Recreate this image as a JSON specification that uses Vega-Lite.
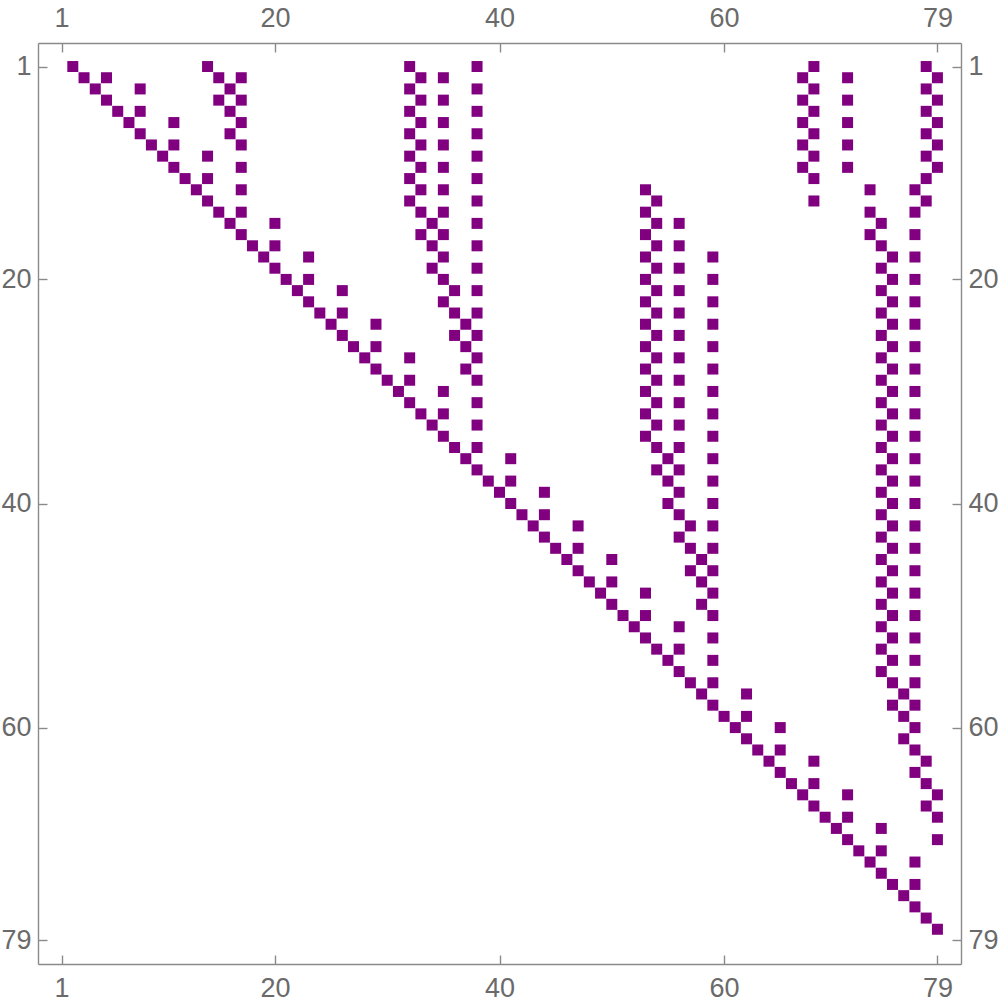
{
  "$schema": "https://vega.github.io/schema/vega-lite/v6.json",
  "width": 923,
  "height": 921,
  "autosize": {"type": "none"},
  "padding": {"left": 38, "top": 43, "right": 39, "bottom": 44},
  "background": "white",
  "config": {
    "view": {"stroke": null},
    "axis": {
      "grid": false,
      "title": null,
      "domain": true,
      "domainColor": "#8a8a8a",
      "domainWidth": 1.4,
      "ticks": true,
      "tickColor": "#8a8a8a",
      "tickWidth": 1.4,
      "tickSize": -9,
      "labelFont": "Liberation Sans",
      "labelFontSize": 27,
      "labelColor": "#6a6a6a",
      "format": "d"
    }
  },
  "data": {"values": [
    {"r":1,"c":2},{"r":1,"c":14},{"r":1,"c":32},{"r":1,"c":38},{"r":1,"c":68},{"r":1,"c":78},
    {"r":2,"c":3},{"r":2,"c":5},{"r":2,"c":15},{"r":2,"c":17},{"r":2,"c":33},{"r":2,"c":35},{"r":2,"c":67},{"r":2,"c":71},{"r":2,"c":79},
    {"r":3,"c":4},{"r":3,"c":8},{"r":3,"c":16},{"r":3,"c":32},{"r":3,"c":38},{"r":3,"c":68},{"r":3,"c":78},
    {"r":4,"c":5},{"r":4,"c":15},{"r":4,"c":17},{"r":4,"c":33},{"r":4,"c":35},{"r":4,"c":67},{"r":4,"c":71},{"r":4,"c":79},
    {"r":5,"c":6},{"r":5,"c":8},{"r":5,"c":16},{"r":5,"c":32},{"r":5,"c":38},{"r":5,"c":68},{"r":5,"c":78},
    {"r":6,"c":7},{"r":6,"c":11},{"r":6,"c":17},{"r":6,"c":33},{"r":6,"c":35},{"r":6,"c":67},{"r":6,"c":71},{"r":6,"c":79},
    {"r":7,"c":8},{"r":7,"c":16},{"r":7,"c":32},{"r":7,"c":38},{"r":7,"c":68},{"r":7,"c":78},
    {"r":8,"c":9},{"r":8,"c":11},{"r":8,"c":17},{"r":8,"c":33},{"r":8,"c":35},{"r":8,"c":67},{"r":8,"c":71},{"r":8,"c":79},
    {"r":9,"c":10},{"r":9,"c":14},{"r":9,"c":32},{"r":9,"c":38},{"r":9,"c":68},{"r":9,"c":78},
    {"r":10,"c":11},{"r":10,"c":17},{"r":10,"c":33},{"r":10,"c":35},{"r":10,"c":67},{"r":10,"c":71},{"r":10,"c":79},
    {"r":11,"c":12},{"r":11,"c":14},{"r":11,"c":32},{"r":11,"c":38},{"r":11,"c":68},{"r":11,"c":78},
    {"r":12,"c":13},{"r":12,"c":17},{"r":12,"c":33},{"r":12,"c":35},{"r":12,"c":53},{"r":12,"c":73},{"r":12,"c":77},
    {"r":13,"c":14},{"r":13,"c":32},{"r":13,"c":38},{"r":13,"c":54},{"r":13,"c":68},{"r":13,"c":78},
    {"r":14,"c":15},{"r":14,"c":17},{"r":14,"c":33},{"r":14,"c":35},{"r":14,"c":53},{"r":14,"c":73},{"r":14,"c":77},
    {"r":15,"c":16},{"r":15,"c":20},{"r":15,"c":34},{"r":15,"c":38},{"r":15,"c":54},{"r":15,"c":56},{"r":15,"c":74},
    {"r":16,"c":17},{"r":16,"c":33},{"r":16,"c":35},{"r":16,"c":53},{"r":16,"c":73},{"r":16,"c":77},
    {"r":17,"c":18},{"r":17,"c":20},{"r":17,"c":34},{"r":17,"c":38},{"r":17,"c":54},{"r":17,"c":56},{"r":17,"c":74},
    {"r":18,"c":19},{"r":18,"c":23},{"r":18,"c":35},{"r":18,"c":53},{"r":18,"c":59},{"r":18,"c":75},{"r":18,"c":77},
    {"r":19,"c":20},{"r":19,"c":34},{"r":19,"c":38},{"r":19,"c":54},{"r":19,"c":56},{"r":19,"c":74},
    {"r":20,"c":21},{"r":20,"c":23},{"r":20,"c":35},{"r":20,"c":53},{"r":20,"c":59},{"r":20,"c":75},{"r":20,"c":77},
    {"r":21,"c":22},{"r":21,"c":26},{"r":21,"c":36},{"r":21,"c":38},{"r":21,"c":54},{"r":21,"c":56},{"r":21,"c":74},
    {"r":22,"c":23},{"r":22,"c":35},{"r":22,"c":53},{"r":22,"c":59},{"r":22,"c":75},{"r":22,"c":77},
    {"r":23,"c":24},{"r":23,"c":26},{"r":23,"c":36},{"r":23,"c":38},{"r":23,"c":54},{"r":23,"c":56},{"r":23,"c":74},
    {"r":24,"c":25},{"r":24,"c":29},{"r":24,"c":37},{"r":24,"c":53},{"r":24,"c":59},{"r":24,"c":75},{"r":24,"c":77},
    {"r":25,"c":26},{"r":25,"c":36},{"r":25,"c":38},{"r":25,"c":54},{"r":25,"c":56},{"r":25,"c":74},
    {"r":26,"c":27},{"r":26,"c":29},{"r":26,"c":37},{"r":26,"c":53},{"r":26,"c":59},{"r":26,"c":75},{"r":26,"c":77},
    {"r":27,"c":28},{"r":27,"c":32},{"r":27,"c":38},{"r":27,"c":54},{"r":27,"c":56},{"r":27,"c":74},
    {"r":28,"c":29},{"r":28,"c":37},{"r":28,"c":53},{"r":28,"c":59},{"r":28,"c":75},{"r":28,"c":77},
    {"r":29,"c":30},{"r":29,"c":32},{"r":29,"c":38},{"r":29,"c":54},{"r":29,"c":56},{"r":29,"c":74},
    {"r":30,"c":31},{"r":30,"c":35},{"r":30,"c":53},{"r":30,"c":59},{"r":30,"c":75},{"r":30,"c":77},
    {"r":31,"c":32},{"r":31,"c":38},{"r":31,"c":54},{"r":31,"c":56},{"r":31,"c":74},
    {"r":32,"c":33},{"r":32,"c":35},{"r":32,"c":53},{"r":32,"c":59},{"r":32,"c":75},{"r":32,"c":77},
    {"r":33,"c":34},{"r":33,"c":38},{"r":33,"c":54},{"r":33,"c":56},{"r":33,"c":74},
    {"r":34,"c":35},{"r":34,"c":53},{"r":34,"c":59},{"r":34,"c":75},{"r":34,"c":77},
    {"r":35,"c":36},{"r":35,"c":38},{"r":35,"c":54},{"r":35,"c":56},{"r":35,"c":74},
    {"r":36,"c":37},{"r":36,"c":41},{"r":36,"c":55},{"r":36,"c":59},{"r":36,"c":75},{"r":36,"c":77},
    {"r":37,"c":38},{"r":37,"c":54},{"r":37,"c":56},{"r":37,"c":74},
    {"r":38,"c":39},{"r":38,"c":41},{"r":38,"c":55},{"r":38,"c":59},{"r":38,"c":75},{"r":38,"c":77},
    {"r":39,"c":40},{"r":39,"c":44},{"r":39,"c":56},{"r":39,"c":74},
    {"r":40,"c":41},{"r":40,"c":55},{"r":40,"c":59},{"r":40,"c":75},{"r":40,"c":77},
    {"r":41,"c":42},{"r":41,"c":44},{"r":41,"c":56},{"r":41,"c":74},
    {"r":42,"c":43},{"r":42,"c":47},{"r":42,"c":57},{"r":42,"c":59},{"r":42,"c":75},{"r":42,"c":77},
    {"r":43,"c":44},{"r":43,"c":56},{"r":43,"c":74},
    {"r":44,"c":45},{"r":44,"c":47},{"r":44,"c":57},{"r":44,"c":59},{"r":44,"c":75},{"r":44,"c":77},
    {"r":45,"c":46},{"r":45,"c":50},{"r":45,"c":58},{"r":45,"c":74},
    {"r":46,"c":47},{"r":46,"c":57},{"r":46,"c":59},{"r":46,"c":75},{"r":46,"c":77},
    {"r":47,"c":48},{"r":47,"c":50},{"r":47,"c":58},{"r":47,"c":74},
    {"r":48,"c":49},{"r":48,"c":53},{"r":48,"c":59},{"r":48,"c":75},{"r":48,"c":77},
    {"r":49,"c":50},{"r":49,"c":58},{"r":49,"c":74},
    {"r":50,"c":51},{"r":50,"c":53},{"r":50,"c":59},{"r":50,"c":75},{"r":50,"c":77},
    {"r":51,"c":52},{"r":51,"c":56},{"r":51,"c":74},
    {"r":52,"c":53},{"r":52,"c":59},{"r":52,"c":75},{"r":52,"c":77},
    {"r":53,"c":54},{"r":53,"c":56},{"r":53,"c":74},
    {"r":54,"c":55},{"r":54,"c":59},{"r":54,"c":75},{"r":54,"c":77},
    {"r":55,"c":56},{"r":55,"c":74},
    {"r":56,"c":57},{"r":56,"c":59},{"r":56,"c":75},{"r":56,"c":77},
    {"r":57,"c":58},{"r":57,"c":62},{"r":57,"c":76},
    {"r":58,"c":59},{"r":58,"c":75},{"r":58,"c":77},
    {"r":59,"c":60},{"r":59,"c":62},{"r":59,"c":76},
    {"r":60,"c":61},{"r":60,"c":65},{"r":60,"c":77},
    {"r":61,"c":62},{"r":61,"c":76},
    {"r":62,"c":63},{"r":62,"c":65},{"r":62,"c":77},
    {"r":63,"c":64},{"r":63,"c":68},{"r":63,"c":78},
    {"r":64,"c":65},{"r":64,"c":77},
    {"r":65,"c":66},{"r":65,"c":68},{"r":65,"c":78},
    {"r":66,"c":67},{"r":66,"c":71},{"r":66,"c":79},
    {"r":67,"c":68},{"r":67,"c":78},
    {"r":68,"c":69},{"r":68,"c":71},{"r":68,"c":79},
    {"r":69,"c":70},{"r":69,"c":74},
    {"r":70,"c":71},{"r":70,"c":79},
    {"r":71,"c":72},{"r":71,"c":74},
    {"r":72,"c":73},{"r":72,"c":77},
    {"r":73,"c":74},
    {"r":74,"c":75},{"r":74,"c":77},
    {"r":75,"c":76},
    {"r":76,"c":77},
    {"r":77,"c":78},
    {"r":78,"c":79}
  ]},
  "layer": [
    {
      "mark": {"type": "square", "size": 121, "color": "#800080", "opacity": 1, "strokeWidth": 0},
      "encoding": {
        "x": {"field": "c", "type": "quantitative",
              "scale": {"domain": [-1.1, 81.1], "nice": false, "zero": false},
              "axis": {"orient": "bottom", "values": [1, 20, 40, 60, 79], "labelPadding": 20}},
        "y": {"field": "r", "type": "quantitative",
              "scale": {"domain": [-1.1, 81.1], "nice": false, "zero": false, "reverse": true},
              "axis": {"orient": "left", "values": [1, 20, 40, 60, 79], "labelPadding": 16}}
      }
    },
    {
      "mark": {"type": "square", "size": 121, "opacity": 0},
      "encoding": {
        "x": {"field": "c", "type": "quantitative",
              "scale": {"domain": [-1.1, 81.1], "nice": false, "zero": false},
              "axis": {"orient": "top", "values": [1, 20, 40, 60, 79], "labelPadding": 20}},
        "y": {"field": "r", "type": "quantitative",
              "scale": {"domain": [-1.1, 81.1], "nice": false, "zero": false, "reverse": true},
              "axis": {"orient": "right", "values": [1, 20, 40, 60, 79], "labelPadding": 16}}
      }
    }
  ],
  "resolve": {"axis": {"x": "independent", "y": "independent"}}
}
